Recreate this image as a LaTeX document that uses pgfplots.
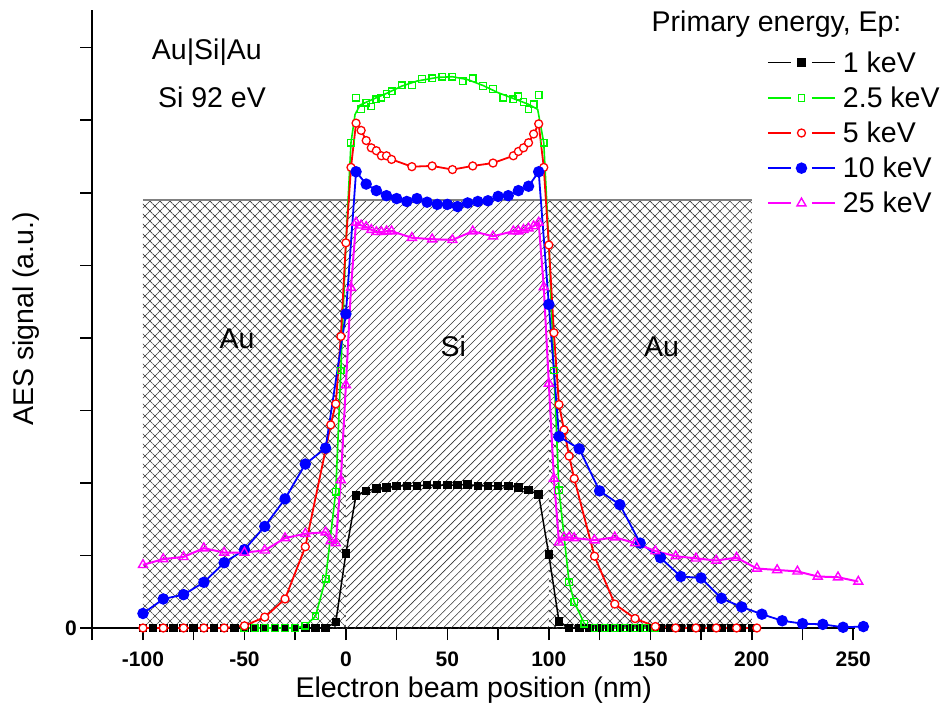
\documentclass[border=0pt]{standalone}
\usepackage{fontspec}
\setmainfont{Liberation Sans}
\usepackage{pgfplots}
\pgfplotsset{compat=1.18}
\usetikzlibrary{patterns.meta}

\definecolor{cgreen}{RGB}{0,245,0}
\definecolor{cmag}{RGB}{255,0,255}

\newcommand{\bigtxt}{\fontsize{28.5}{33}\selectfont}

\begin{document}
\begin{tikzpicture}
\useasboundingbox (-92.25pt,-83pt) rectangle (856.75pt,628pt);
\begin{axis}[
  at={(0pt,0pt)}, anchor=south west,
  scale only axis, width=763pt, height=618pt,
  xmin=-125, xmax=251, ymin=0, ymax=8.52,
  axis lines=left, axis line style={-, line width=2pt},
  clip=false,
  xtick={-125,-100,...,250},
  xticklabels={,-100,,-50,,0,,50,,100,,150,,200,,250},
  ytick={0,...,8}, yticklabels={0,,,,,,,,},
  tick align=outside, major tick length=12pt,
  tick style={line width=1.5pt, black},
  ticklabel style={font=\fontsize{21}{25}\selectfont\bfseries},
  xticklabel shift=8pt,
  xlabel={Electron beam position (nm)},
  ylabel={AES signal (a.u.)},
  xlabel shift=4pt, ylabel shift=19pt,
  label style={font=\bigtxt},
  legend style={draw=none, fill=none, at={(axis cs:207.4,7.99)}, anchor=north west,
    inner sep=0pt, row sep=7pt, font=\bigtxt, nodes={inner sep=3pt},
    /tikz/every odd column/.append style={column sep=4pt}},
  legend cell align=left,
  legend image code/.code={
    \draw[mark=none] (0pt,0pt) -- (23pt,0pt);
    \draw[mark=none] (44pt,0pt) -- (67pt,0pt);
    \draw plot coordinates {(33.5pt,0pt)};
  },
]
% hatched layers
\addplot[draw=none, forget plot, pattern={Hatch[angle=45,distance=7.07pt,line width=0.6pt]}, pattern color=black!80]
  coordinates {(-100,5.9)(0,5.9)} \closedcycle;
\addplot[draw=none, forget plot, pattern={Hatch[angle=45,distance=7.07pt,line width=0.6pt]}, pattern color=black!80]
  coordinates {(100,5.9)(200,5.9)} \closedcycle;
\addplot[draw=none, forget plot, pattern={Lines[angle=45,distance=5.66pt,line width=0.6pt]}, pattern color=black!80]
  coordinates {(0,5.9)(100,5.9)} \closedcycle;
\addplot[gray, line width=1.5pt, forget plot] coordinates {(-100,5.9)(200,5.9)};

% 1 keV
\addplot[black, line width=1.5pt, mark=square*, mark size=3.5pt, forget plot] coordinates {
(-100,0)(-95,0)(-90,0)(-85,0)(-80,0)(-75,0)(-70,0)(-65,0)(-60,0)(-55,0)(-50,0)(-45,0)(-40,0)
(-35,0)(-30,0)(-25,0)(-20,0)(-15,0)(-10,0)(-5,0.08)(0,1.03)(5,1.83)(10,1.89)(15,1.92)(20,1.94)
(25,1.96)(30,1.96)(35,1.96)(40,1.97)(45,1.97)(50,1.97)(55,1.97)(60,1.98)(65,1.96)(70,1.96)
(75,1.96)(80,1.96)(85,1.94)(90,1.90)(95,1.84)(100,1.01)(105,0.09)(110,0)(115,0)(120,0)(125,0)
(130,0)(135,0)(140,0)(145,0)(150,0)(155,0)(160,0)(165,0)(170,0)(175,0)(180,0)(185,0)(190,0)
(195,0)(200,0)};

% 2.5 keV line
\addplot[cgreen, line width=1.6pt, forget plot] coordinates {
(-50,0)(-25,0)(-20,0.03)(-15,0.16)(-10,0.68)(-5,1.88)(-2.5,3.55)(0,5.3)(2.5,6.69)(4.5,7.08)
(7,7.21)(12.5,7.28)(20,7.37)(27.5,7.47)(35,7.54)(45,7.59)(52.5,7.6)(60,7.56)(67.5,7.48)
(75,7.38)(82.5,7.3)(90,7.22)(94.5,7.15)(97.5,6.69)(100,5.3)(102.5,3.55)(105,1.9)(110,0.63)
(112.5,0.36)(117.5,0.06)(122.5,0)(152.5,0)};
% 2.5 keV points
\addplot[cgreen, only marks, mark=square, mark size=3.3pt, mark options={fill=white, line width=1.3pt}, forget plot] coordinates {
(-50,0)(-45,0)(-40,0)(-35,0)(-30,0)(-25,0)(-20,0.03)(-15,0.16)(-10,0.68)(-5,1.88)(-2.5,3.55)
(2.5,6.69)(5,7.31)(7.5,7.15)(10,7.24)(12.5,7.19)(15,7.29)(17.5,7.31)(20,7.36)(22.5,7.40)
(27.5,7.48)(32.5,7.48)(37.5,7.57)(42.5,7.58)(47.5,7.60)(52.5,7.60)(57.5,7.54)(62.5,7.58)
(67.5,7.47)(72.5,7.43)(77.5,7.31)(82.5,7.29)(85,7.33)(87.5,7.25)(90,7.15)(92.5,7.22)(95,7.35)
(97.5,6.69)(102.5,3.55)(105,1.90)(110,0.63)(112.5,0.36)(117.5,0.06)(122.5,0)(127.5,0)(132.5,0)
(137.5,0)(142.5,0)(147.5,0)(152.5,0)};

% 5 keV
\addplot[red, line width=1.8pt, mark=*, mark size=4pt, mark options={fill=white, line width=1.3pt}, forget plot] coordinates {
(-100,0)(-90,0)(-80,0)(-70,0)(-60,0)(-50,0.03)(-40,0.15)(-30,0.40)(-20,1.12)(-10,2.46)(-7.5,2.8)
(-5,3.09)(-2.5,4.02)(0,5.31)(2.5,6.35)(5,6.96)(7.5,6.86)(10,6.72)(12.5,6.62)(15,6.58)(17.5,6.51)
(20,6.51)(22.5,6.46)(32.5,6.36)(42.5,6.37)(52.5,6.32)(62.5,6.37)(72.5,6.41)(82.5,6.51)(85,6.57)
(87.5,6.62)(90,6.69)(92.5,6.81)(95,6.95)(97.5,6.35)(100,5.28)(102.5,4.07)(105,3.08)(107.5,2.73)
(110,2.37)(112.5,2.06)(122.5,0.99)(132.5,0.33)(142.5,0.13)(152.5,0.02)(162.5,0)(172.5,0)
(182.5,0)(192.5,0)(202.5,0)};

% 10 keV
\addplot[blue, line width=1.8pt, mark=*, mark size=4.8pt, forget plot] coordinates {
(-100,0.20)(-90,0.40)(-80,0.46)(-70,0.63)(-60,0.90)(-50,1.08)(-40,1.40)(-30,1.78)(-20,2.26)
(-10,2.48)(0,4.33)(5,6.29)(10,6.12)(15,6.03)(20,5.96)(25,5.92)(30,5.88)(35,5.92)(40,5.87)
(45,5.84)(50,5.84)(55,5.81)(60,5.86)(65,5.88)(70,5.89)(75,5.95)(80,5.96)(85,6.03)(90,6.09)
(95,6.29)(100,4.46)(105,2.64)(115,2.47)(125,1.89)(135,1.70)(145,1.17)(155,0.97)(165,0.71)
(175,0.69)(185,0.41)(195,0.29)(205,0.19)(215,0.10)(225,0.06)(235,0.05)(245,0.01)(255,0.02)};

% 25 keV
\addplot[cmag, line width=2pt, mark=triangle, mark size=5.2pt, mark options={fill=white, line width=1.4pt}, forget plot] coordinates {
(-100,0.87)(-90,0.95)(-80,0.98)(-70,1.10)(-60,1.04)(-50,1.04)(-40,1.07)(-30,1.24)(-20,1.30)
(-10,1.32)(-7.5,1.20)(-5,1.17)(-2.5,2.04)(0,3.35)(2.5,4.69)(5,5.59)(7.5,5.55)(10,5.53)
(12.5,5.49)(15,5.46)(17.5,5.46)(20,5.47)(22.5,5.47)(32.5,5.38)(42.5,5.36)(52.5,5.35)(62.5,5.47)
(72.5,5.40)(82.5,5.47)(85,5.47)(87.5,5.49)(90,5.51)(92.5,5.54)(95,5.59)(97.5,4.70)(100,3.37)
(102.5,2.06)(105,1.18)(107.5,1.25)(110,1.25)(112.5,1.24)(122.5,1.21)(132.5,1.25)(142.5,1.17)
(152.5,1.06)(162.5,0.99)(172.5,0.96)(182.5,0.93)(192.5,0.97)(202.5,0.82)(212.5,0.80)
(222.5,0.78)(232.5,0.71)(242.5,0.70)(252.5,0.64)};

% legend
\addlegendimage{black, line width=1.5pt, mark=square*, mark size=3.5pt}
\addlegendentry{1 keV}
\addlegendimage{cgreen, line width=1.6pt, mark=square, mark size=3.3pt, mark options={fill=white, line width=1.3pt}}
\addlegendentry{2.5 keV}
\addlegendimage{red, line width=1.8pt, mark=*, mark size=4pt, mark options={fill=white, line width=1.3pt}}
\addlegendentry{5 keV}
\addlegendimage{blue, line width=1.8pt, mark=*, mark size=4.8pt}
\addlegendentry{10 keV}
\addlegendimage{cmag, line width=2pt, mark=triangle, mark size=5.2pt, mark options={fill=white, line width=1.4pt}}
\addlegendentry{25 keV}

% text
\node[font=\bigtxt] at (axis cs:-68.5,7.94) {Au|Si|Au};
\node[font=\bigtxt] at (axis cs:-66,7.32) {Si 92 eV};
\node[font=\bigtxt] at (axis cs:-53.7,3.99) {Au};
\node[font=\bigtxt] at (axis cs:52.9,3.88) {Si};
\node[font=\bigtxt] at (axis cs:155.5,3.88) {Au};
\node[font=\bigtxt, anchor=base east] at (axis cs:275.5,8.22) {Primary energy, Ep:};
\end{axis}
\end{tikzpicture}
\end{document}
